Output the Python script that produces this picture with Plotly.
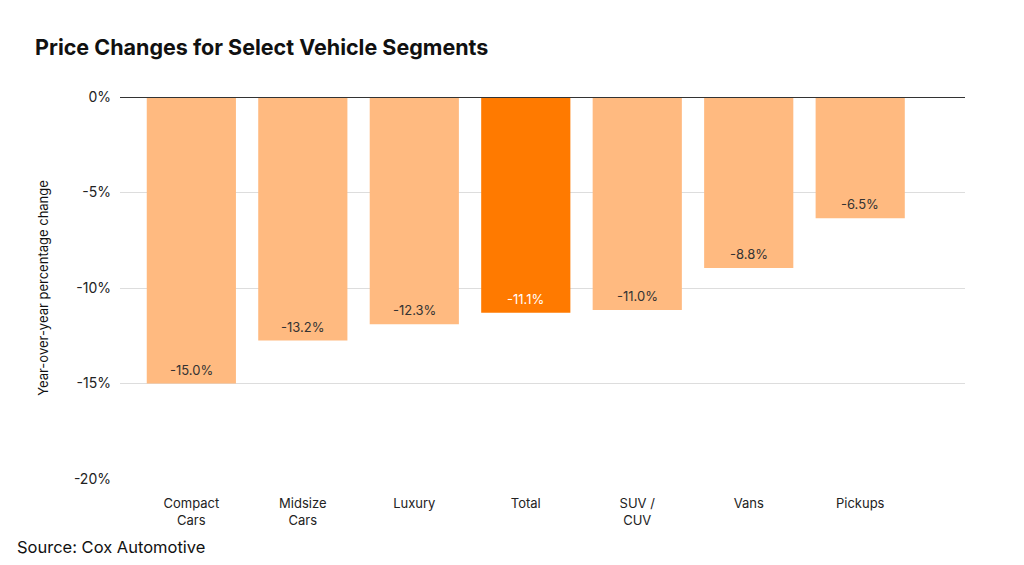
import plotly.graph_objects as go

segments = ['Compact<br>Cars', 'Midsize<br>Cars', 'Luxury', 'Total', 'SUV /<br>CUV', 'Vans', 'Pickups']
# bar lengths as drawn in the picture
bar_values = [-15.0, -12.75, -11.9, -11.3, -11.15, -8.95, -6.35]
# printed labels
bar_labels = ['-15.0%', '-13.2%', '-12.3%', '-11.1%', '-11.0%', '-8.8%', '-6.5%']
y_ticks = [0, -5, -10, -15, -20]
y_tick_text = ['0%', '-5%', '-10%', '-15%', '-20%']

light = '#FFBA80'
dark = '#FF7A00'
colors = [light] * 7
colors[3] = dark
text_colors = ['#333333'] * 7
text_colors[3] = '#FFFFFF'

x_pos = list(range(len(segments)))

fig = go.Figure()

fig.add_trace(
    go.Bar(x=x_pos, y=bar_values,
           marker=dict(color=colors, line=dict(width=0)),
           hoverinfo='skip'))

# value labels sitting just above the end of each bar
for xv, yv, lab, tc in zip(x_pos, bar_values, bar_labels, text_colors):
    fig.add_annotation(x=xv, y=yv, text=lab, showarrow=False,
                       yanchor='middle', yshift=14,
                       font=dict(family='Inter, Roboto, sans-serif', size=13, color=tc))

fig.update_layout(
    width=1024, height=565,
    margin=dict(l=112, r=67, t=89, b=94),
    paper_bgcolor='white', plot_bgcolor='white',
    bargap=0.2,
    showlegend=False,
    font=dict(family='Inter, Roboto, sans-serif', color='#222222'),
    title=dict(text='<b>Price Changes for Select Vehicle Segments</b>',
               x=0.0264, xanchor='left', y=0.931, yanchor='middle',
               font=dict(size=21.5, color='#111111')),
)

fig.update_xaxes(
    range=[-0.64, 6.94],
    tickmode='array', tickvals=x_pos, ticktext=segments,
    tickfont=dict(size=13, color='#222222'),
    showgrid=False, zeroline=False, showline=False, ticks='',
    ticklabelstandoff=15,
)

fig.update_yaxes(
    range=[-20, 0],
    tickmode='array', tickvals=y_ticks, ticktext=y_tick_text,
    tickfont=dict(size=14, color='#222222'),
    showgrid=True, gridcolor='#DDDDDD', gridwidth=1,
    zeroline=False, showline=False, ticks='',
    ticklabelstandoff=8,
    title=dict(text='Year-over-year percentage change', font=dict(size=13, color='#111111'),
               standoff=22),
)

# dark zero line across the top of the plot
fig.add_shape(type='line', xref='paper', yref='y', x0=0, x1=1, y0=0, y1=0,
              line=dict(color='#333333', width=2))

fig.add_annotation(text='Source: Cox Automotive', xref='paper', yref='paper',
                   x=-0.1243, y=-0.178, xanchor='left', yanchor='middle',
                   showarrow=False, font=dict(size=16.5, color='#111111'))

fig.write_html("out.html")
